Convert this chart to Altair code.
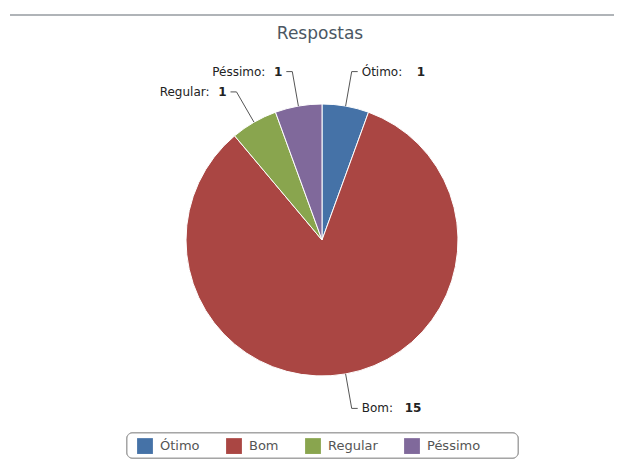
import altair as alt
import pandas as pd

categorias = ["Ótimo", "Bom", "Regular", "Péssimo"]
respostas = [1, 15, 1, 1]
cores = ["#4572A7", "#AA4643", "#89A54E", "#80699B"]

df = pd.DataFrame({
    "categoria": categorias,
    "valor": respostas,
    "ordem": list(range(len(categorias))),
})

CX, CY, R, R2 = 314, 232, 136, 171
FONT = "DejaVu Sans"

base = alt.Chart(df)

pie = base.mark_arc(stroke="white", strokeWidth=1, radius=R).encode(
    theta=alt.Theta("valor:Q", stack=True),
    order=alt.Order("ordem:Q"),
    color=alt.Color(
        "categoria:N",
        scale=alt.Scale(domain=categorias, range=cores),
        sort=categorias,
        legend=alt.Legend(
            title=None, orient="none", legendX=124, legendY=425,
            direction="horizontal", symbolType="square", symbolSize=250,
            symbolStrokeWidth=0, labelFont=FONT, labelFontSize=13,
            labelColor="#555555", padding=5, columnPadding=26, labelOffset=7,
        ),
    ),
    x=alt.value(CX),
    y=alt.value(CY),
)

geo = base.transform_window(
    cum="sum(valor)", sort=[alt.SortField("ordem")], frame=[None, 0]
).transform_joinaggregate(
    total="sum(valor)"
).transform_calculate(
    mid="(datum.cum - datum.valor/2) / datum.total * 2 * PI",
).transform_calculate(
    side="sin(datum.mid) >= 0 ? 1 : -1",
    ex=f"{CX} + {R}*sin(datum.mid)",
    ey=f"{CY} - {R}*cos(datum.mid)",
    bx=f"{CX} + {R2}*sin(datum.mid)",
    by=f"{CY} - {R2}*cos(datum.mid)",
).transform_calculate(
    hx="datum.bx + 6*datum.side",
).transform_calculate(
    lx="datum.hx + 4*datum.side",
    rotulo="datum.categoria + ':'",
    vtxt="'' + datum.valor",
).transform_calculate(
    vx_r="datum.lx + 19 + 6*length(datum.rotulo)",
    nx_l="datum.lx - 7*length(datum.vtxt) - 10",
)

c1 = geo.mark_rule(color="#555555", strokeWidth=1).encode(
    x=alt.X("ex:Q", scale=None), y=alt.Y("ey:Q", scale=None),
    x2="bx:Q", y2="by:Q",
)
c2 = geo.mark_rule(color="#555555", strokeWidth=1).encode(
    x=alt.X("bx:Q", scale=None), y=alt.Y("by:Q", scale=None),
    x2="hx:Q", y2="by:Q",
)

right = geo.transform_filter("datum.side > 0")
left = geo.transform_filter("datum.side < 0")

tkw = dict(font=FONT, fontSize=12, baseline="middle", color="#222222")
rn = right.mark_text(align="left", **tkw).encode(
    x=alt.X("lx:Q", scale=None), y=alt.Y("by:Q", scale=None), text="rotulo:N")
rv = right.mark_text(align="left", fontWeight="bold", **tkw).encode(
    x=alt.X("vx_r:Q", scale=None), y=alt.Y("by:Q", scale=None), text="vtxt:N")
lv = left.mark_text(align="right", fontWeight="bold", **tkw).encode(
    x=alt.X("lx:Q", scale=None), y=alt.Y("by:Q", scale=None), text="vtxt:N")
ln = left.mark_text(align="right", **tkw).encode(
    x=alt.X("nx_l:Q", scale=None), y=alt.Y("by:Q", scale=None), text="rotulo:N")

topline = base.mark_rule(color="#b0b4b8", strokeWidth=2).encode(
    x=alt.value(2), x2=alt.value(620), y=alt.value(7))

legend_box = base.mark_rect(
    fill="white", stroke="#a0a0a0", strokeWidth=1, cornerRadius=5
).encode(
    x=alt.value(119), x2=alt.value(510), y=alt.value(425), y2=alt.value(450))

chart = alt.layer(topline, legend_box, pie, c1, c2, rn, rv, lv, ln).properties(
    width=606, height=454,
    autosize=alt.AutoSizeParams(type="none"),
    padding=0,
    title=alt.TitleParams(
        "Respostas", anchor="middle", font=FONT, fontSize=17,
        fontWeight="normal", color="#4b5763", offset=0, dy=52, dx=9,
        baseline="bottom",
    ),
).configure_view(strokeWidth=0)

chart.save("out.html", embed_options={"renderer": "svg", "actions": False})
